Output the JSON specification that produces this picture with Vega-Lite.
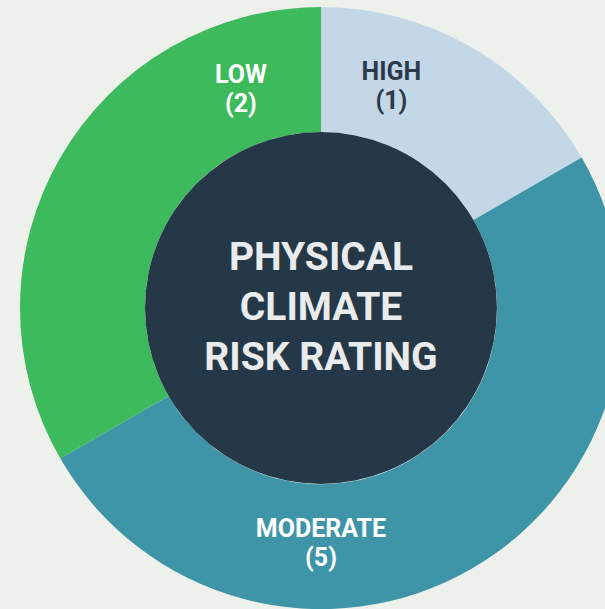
{
  "$schema": "https://vega.github.io/schema/vega-lite/v6.json",
  "width": 605,
  "height": 609,
  "autosize": {"type": "fit", "contains": "padding"},
  "padding": {"left": 37, "top": 7, "right": 0, "bottom": 0},
  "background": "#eef0ec",
  "config": {"view": {"stroke": null}},
  "datasets": {
    "segments": [
      {"category": "HIGH", "count": 1, "weight": 60, "seq": 1, "labelAngle": 17.5, "label": "HIGH\n(1)"},
      {"category": "MODERATE", "count": 5, "weight": 180, "seq": 2, "labelAngle": 180, "label": "MODERATE\n(5)"},
      {"category": "LOW", "count": 2, "weight": 120, "seq": 3, "labelAngle": 340, "label": "LOW\n(2)"}
    ],
    "title": [{"text": "PHYSICAL\nCLIMATE\nRISK RATING"}]
  },
  "layer": [
    {
      "data": {"name": "segments"},
      "mark": {"type": "arc", "innerRadius": 176, "outerRadius": 301},
      "encoding": {
        "theta": {"field": "weight", "type": "quantitative", "stack": true, "scale": {"domain": [0, 360]}},
        "order": {"field": "seq", "type": "quantitative"},
        "color": {
          "field": "category",
          "type": "nominal",
          "scale": {"domain": ["HIGH", "MODERATE", "LOW"], "range": ["#c3d7e7", "#3e95a7", "#3dba5c"]},
          "legend": null
        }
      }
    },
    {
      "data": {"name": "title"},
      "mark": {"type": "arc", "theta": 0, "theta2": 6.2832, "outerRadius": 176, "innerRadius": 0, "fill": "#253847"},
      "encoding": {}
    },
    {
      "data": {"name": "segments"},
      "mark": {"type": "text", "radius": 234, "dy": -13, "font": "Roboto", "fontWeight": "bold", "fontSize": 25, "lineHeight": 29, "lineBreak": "\n", "align": "center", "baseline": "middle"},
      "encoding": {
        "theta": {"field": "labelAngle", "type": "quantitative", "stack": null, "scale": {"domain": [0, 360]}},
        "text": {"field": "label", "type": "nominal"},
        "color": {"condition": {"test": "datum.category === 'HIGH'", "value": "#2b3a4b"}, "value": "#ffffff"}
      }
    },
    {
      "data": {"name": "title"},
      "mark": {"type": "text", "dy": -50, "font": "Roboto", "fontWeight": "bold", "fontSize": 39, "lineHeight": 50, "lineBreak": "\n", "align": "center", "baseline": "middle", "color": "#e9ebed"},
      "encoding": {"text": {"field": "text", "type": "nominal"}}
    }
  ],
  "resolve": {"scale": {"theta": "independent", "color": "independent"}}
}
